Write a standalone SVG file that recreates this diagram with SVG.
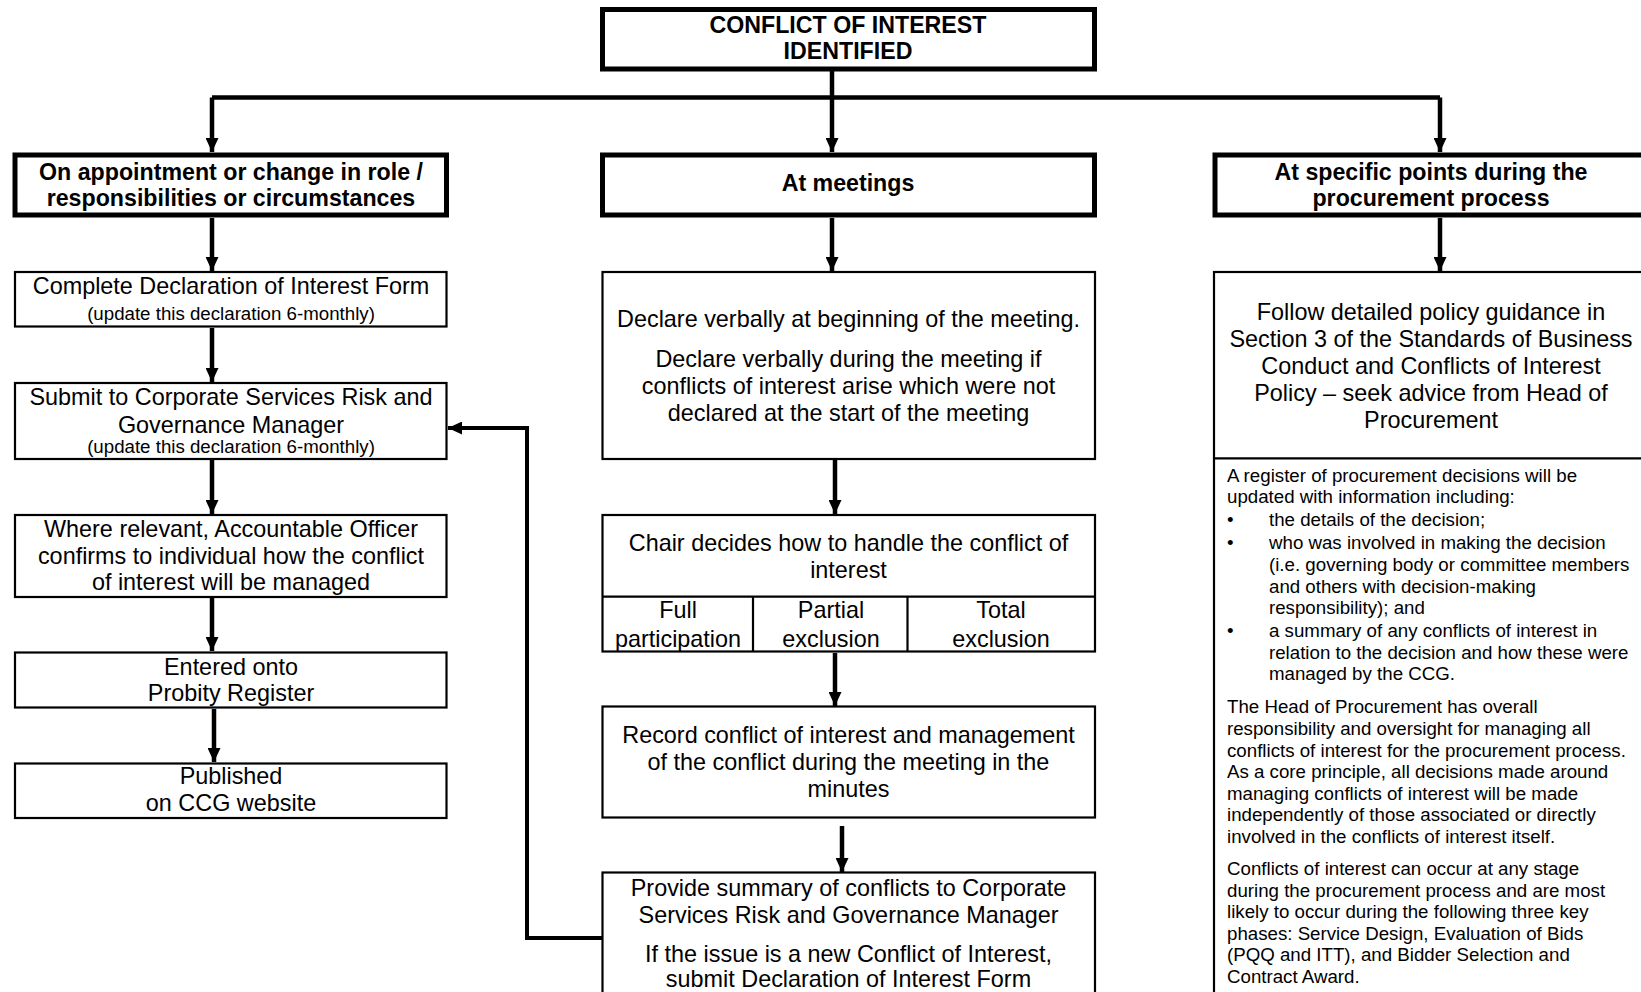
<svg xmlns="http://www.w3.org/2000/svg" width="1641" height="992" viewBox="0 0 1641 992">
<style>
text{font-family:"Liberation Sans",Arial,sans-serif;fill:#000}
.b{font-size:23.2px;font-weight:bold;text-anchor:middle}
.t{font-size:23.4px;text-anchor:middle}
.s{font-size:18.7px;text-anchor:middle}
.l{font-size:18.7px}
.hb{fill:#fff;stroke:#000;stroke-width:5}
.bx{fill:#fff;stroke:#000;stroke-width:2.2}
.c{fill:none;stroke:#000;stroke-width:4.5}
.c2{fill:none;stroke:#000;stroke-width:4}
</style>
<defs>
<marker id="ah" markerUnits="userSpaceOnUse" markerWidth="14" markerHeight="13" refX="14" refY="6.5" orient="auto">
<path d="M0,0 L14,6.5 L0,13 Z" fill="#000"/>
</marker>
</defs>
<rect width="1641" height="992" fill="#fff"/>
<g id="connectors">
<path class="c" d="M832,69 V152" marker-end="url(#ah)"/>
<path class="c" d="M212,97.5 H1440"/>
<path class="c" d="M212,97.5 V152" marker-end="url(#ah)"/>
<path class="c" d="M1440,97.5 V152" marker-end="url(#ah)"/>
<path class="c" d="M212,218 V271" marker-end="url(#ah)"/>
<path class="c" d="M212,328 V382" marker-end="url(#ah)"/>
<path class="c" d="M212,460 V514" marker-end="url(#ah)"/>
<path class="c" d="M212,598 V651" marker-end="url(#ah)"/>
<path class="c" d="M214,709 V762" marker-end="url(#ah)"/>
<path class="c" d="M832,218 V271" marker-end="url(#ah)"/>
<path class="c" d="M835,460 V514" marker-end="url(#ah)"/>
<path class="c" d="M835,653 V706" marker-end="url(#ah)"/>
<path class="c" d="M842,826 V872" marker-end="url(#ah)"/>
<path class="c" d="M1440,218 V271" marker-end="url(#ah)"/>
<path class="c2" d="M602,938 H527 V428 H448" marker-end="url(#ah)"/>
</g>
<g id="n-top">
<rect class="hb" x="602.5" y="9.5" width="492" height="59.5"/>
<text class="b" x="848" y="32.5">CONFLICT OF INTEREST</text>
<text class="b" x="848" y="59">IDENTIFIED</text>
</g>
<g id="n-appointment">
<rect class="hb" x="15" y="155" width="431.5" height="60"/>
<text class="b" x="231" y="180">On appointment or change in role /</text>
<text class="b" x="231" y="206">responsibilities or circumstances</text>
</g>
<g id="n-meetings">
<rect class="hb" x="602.5" y="155" width="492" height="60"/>
<text class="b" x="848" y="191">At meetings</text>
</g>
<g id="n-procurement">
<rect class="hb" x="1215" y="155" width="450" height="60"/>
<text class="b" x="1431" y="180">At specific points during the</text>
<text class="b" x="1431" y="206">procurement process</text>
</g>
<g id="n-complete">
<rect class="bx" x="15" y="272" width="431.5" height="54.5"/>
<text class="t" x="231" y="294">Complete Declaration of Interest Form</text>
<text class="s" x="231" y="319.5">(update this declaration 6-monthly)</text>
</g>
<g id="n-submit">
<rect class="bx" x="15" y="383" width="431.5" height="76"/>
<text class="t" x="231" y="405">Submit to Corporate Services Risk and</text>
<text class="t" x="231" y="432.5">Governance Manager</text>
<text class="s" x="231" y="453">(update this declaration 6-monthly)</text>
</g>
<g id="n-where">
<rect class="bx" x="15" y="515" width="431.5" height="82"/>
<text class="t" x="231" y="537">Where relevant, Accountable Officer</text>
<text class="t" x="231" y="563.5">confirms to individual how the conflict</text>
<text class="t" x="231" y="590">of interest will be managed</text>
</g>
<g id="n-entered">
<rect class="bx" x="15" y="652.5" width="431.5" height="55"/>
<text class="t" x="231" y="674.5">Entered onto</text>
<text class="t" x="231" y="701">Probity Register</text>
</g>
<g id="n-published">
<rect class="bx" x="15" y="763.5" width="431.5" height="54.5"/>
<text class="t" x="231" y="783.5">Published</text>
<text class="t" x="231" y="811">on CCG website</text>
</g>
<g id="n-declare">
<rect class="bx" x="602.5" y="272" width="492.5" height="187"/>
<text class="t" x="848.5" y="327">Declare verbally at beginning of the meeting.</text>
<text class="t" x="848.5" y="366.5">Declare verbally during the meeting if</text>
<text class="t" x="848.5" y="393.5">conflicts of interest arise which were not</text>
<text class="t" x="848.5" y="420.5">declared at the start of the meeting</text>
</g>
<g id="n-chair">
<rect class="bx" x="602.5" y="515" width="492.5" height="136.5"/>
<path d="M602.5,596.7 H1095 M753,596.7 V651.5 M907.5,596.7 V651.5" stroke="#000" stroke-width="2.2" fill="none"/>
<text class="t" x="848.5" y="551">Chair decides how to handle the conflict of</text>
<text class="t" x="848.5" y="578">interest</text>
<text class="t" x="678" y="618">Full</text>
<text class="t" x="678" y="646.5">participation</text>
<text class="t" x="831" y="618">Partial</text>
<text class="t" x="831" y="646.5">exclusion</text>
<text class="t" x="1001" y="618">Total</text>
<text class="t" x="1001" y="646.5">exclusion</text>
</g>
<g id="n-record">
<rect class="bx" x="602.5" y="706.5" width="492.5" height="111"/>
<text class="t" x="848.5" y="743">Record conflict of interest and management</text>
<text class="t" x="848.5" y="770">of the conflict during the meeting in the</text>
<text class="t" x="848.5" y="796.5">minutes</text>
</g>
<g id="n-provide">
<rect class="bx" x="602.5" y="872.5" width="492.5" height="200"/>
<text class="t" x="848.5" y="896">Provide summary of conflicts to Corporate</text>
<text class="t" x="848.5" y="922.5">Services Risk and Governance Manager</text>
<text class="t" x="848.5" y="961.5">If the issue is a new Conflict of Interest,</text>
<text class="t" x="848.5" y="986.5">submit Declaration of Interest Form</text>
</g>
<g id="n-follow">
<rect class="bx" x="1214" y="272" width="450" height="800"/>
<path d="M1214,458.3 H1664" stroke="#000" stroke-width="2.2"/>
<text class="t" x="1431" y="320">Follow detailed policy guidance in</text>
<text class="t" x="1431" y="347">Section 3 of the Standards of Business</text>
<text class="t" x="1431" y="374">Conduct and Conflicts of Interest</text>
<text class="t" x="1431" y="400.5">Policy – seek advice from Head of</text>
<text class="t" x="1431" y="427.5">Procurement</text>
</g>
<g id="n-register">
<text class="l" x="1227" y="481.5">A register of procurement decisions will be</text>
<text class="l" x="1227" y="503">updated with information including:</text>
<text class="l" x="1227" y="526">•</text>
<text class="l" x="1269" y="526">the details of the decision;</text>
<text class="l" x="1227" y="548.5">•</text>
<text class="l" x="1269" y="548.5">who was involved in making the decision</text>
<text class="l" x="1269" y="570.5">(i.e. governing body or committee members</text>
<text class="l" x="1269" y="592.5">and others with decision-making</text>
<text class="l" x="1269" y="614">responsibility); and</text>
<text class="l" x="1227" y="636.5">•</text>
<text class="l" x="1269" y="636.5">a summary of any conflicts of interest in</text>
<text class="l" x="1269" y="658.5">relation to the decision and how these were</text>
<text class="l" x="1269" y="680">managed by the CCG.</text>
<text class="l" x="1227" y="712.5">The Head of Procurement has overall</text>
<text class="l" x="1227" y="735">responsibility and oversight for managing all</text>
<text class="l" x="1227" y="756.5">conflicts of interest for the procurement process.</text>
<text class="l" x="1227" y="778">As a core principle, all decisions made around</text>
<text class="l" x="1227" y="799.5">managing conflicts of interest will be made</text>
<text class="l" x="1227" y="821">independently of those associated or directly</text>
<text class="l" x="1227" y="842.5">involved in the conflicts of interest itself.</text>
<text class="l" x="1227" y="875">Conflicts of interest can occur at any stage</text>
<text class="l" x="1227" y="896.5">during the procurement process and are most</text>
<text class="l" x="1227" y="918">likely to occur during the following three key</text>
<text class="l" x="1227" y="939.5">phases: Service Design, Evaluation of Bids</text>
<text class="l" x="1227" y="961">(PQQ and ITT), and Bidder Selection and</text>
<text class="l" x="1227" y="983">Contract Award.</text>
</g>
</svg>
